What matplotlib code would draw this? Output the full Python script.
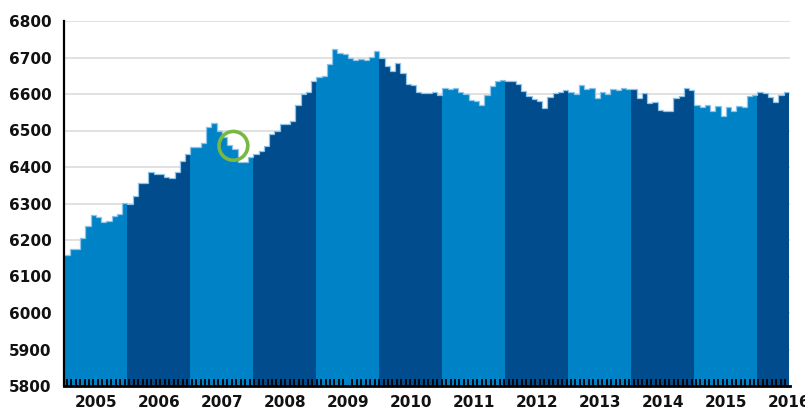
import numpy as np
import matplotlib
matplotlib.use("Agg")
import matplotlib.pyplot as plt

years = ["2005", "2006", "2007", "2008", "2009", "2010", "2011", "2012",
         "2013", "2014", "2015", "2016"]

v2005 = [6158, 6175, 6175, 6206, 6238, 6268, 6262, 6249, 6252, 6265, 6271, 6301]
v2006 = [6300, 6321, 6355, 6355, 6385, 6380, 6382, 6373, 6371, 6385, 6416, 6436]
v2007 = [6454, 6456, 6465, 6510, 6520, 6500, 6482, 6460, 6449, 6415, 6415, 6428]
v2008 = [6436, 6444, 6458, 6491, 6500, 6518, 6517, 6527, 6570, 6600, 6605, 6636]
v2009 = [6646, 6649, 6682, 6723, 6711, 6710, 6700, 6693, 6695, 6694, 6702, 6718]
v2010 = [6698, 6678, 6664, 6686, 6657, 6627, 6625, 6605, 6602, 6603, 6606, 6598]
v2011 = [6616, 6613, 6617, 6605, 6600, 6584, 6580, 6571, 6597, 6622, 6636, 6637]
v2012 = [6636, 6635, 6628, 6607, 6595, 6585, 6580, 6563, 6593, 6603, 6605, 6610]
v2013 = [6606, 6599, 6625, 6613, 6616, 6590, 6605, 6600, 6613, 6611, 6616, 6613]
v2014 = [6613, 6588, 6602, 6575, 6579, 6556, 6553, 6553, 6588, 6595, 6616, 6610]
v2015 = [6570, 6565, 6569, 6554, 6566, 6541, 6564, 6553, 6566, 6564, 6594, 6598]
v2016 = [6605, 6602, 6592, 6578, 6596, 6605]

series = [v2005, v2006, v2007, v2008, v2009, v2010, v2011, v2012,
          v2013, v2014, v2015, v2016]

# highlighted point (month index, value)
highlight_x = 32.2
highlight_y = 6458

yticks = [5800, 5900, 6000, 6100, 6200, 6300, 6400, 6500, 6600, 6700, 6800]

LIGHT = "#0083c6"
DARK = "#004c8d"
EDGE = "#8fc4ea"
GREEN = "#78b843"

values = np.concatenate([np.array(s, dtype=float) for s in series])
colors = []
for i, s in enumerate(series):
    colors += [LIGHT if i % 2 == 0 else DARK] * len(s)
n = len(values)
x = np.arange(n)

fig = plt.figure(figsize=(8.05, 4.09), dpi=100)
ax = fig.add_axes([64.3 / 805, (409 - 386) / 409, (790 - 64.3) / 805, (386 - 21) / 409])

ax.bar(x, values - 5800, bottom=5800, width=1.0, align="edge", color=colors,
       linewidth=0, zorder=2)
ax.stairs(values, np.arange(n + 1), baseline=None, color=EDGE, lw=0.9, zorder=3)

ax.scatter([highlight_x], [highlight_y], s=430, facecolors="none",
           edgecolors=GREEN, linewidths=2.6, zorder=5)

ax.set_xlim(0, 138.2)
ax.set_ylim(5800, 6800)
ax.set_yticks(yticks)
ax.set_yticklabels([str(t) for t in yticks])
ax.yaxis.grid(True, color="#dcdcdc", lw=1.2, zorder=0)
ax.set_axisbelow(True)
ax.xaxis.set_zorder(4)

centers = [12 * i + 6 for i in range(len(years))]
ax.set_xticks(centers)
ax.set_xticklabels(years)
ax.set_xticks(np.arange(0.45, 138, 0.85), minor=True)
ax.tick_params(axis="x", which="major", length=0, pad=6.5)
ax.tick_params(axis="x", which="minor", direction="in", length=5.0, width=1.3,
               color="black")
ax.tick_params(axis="y", length=0, pad=9)
for lab in ax.get_xticklabels() + ax.get_yticklabels():
    lab.set_fontweight("bold")
    lab.set_fontsize(11)
    lab.set_color("#111111")
for lab in ax.get_xticklabels():
    lab.set_clip_on(False)

for side in ["top", "right"]:
    ax.spines[side].set_visible(False)
ax.spines["left"].set_linewidth(1.6)
ax.spines["bottom"].set_linewidth(2.0)
ax.spines["left"].set_zorder(6)
ax.spines["bottom"].set_zorder(6)

fig.savefig("out.png", dpi=100)
